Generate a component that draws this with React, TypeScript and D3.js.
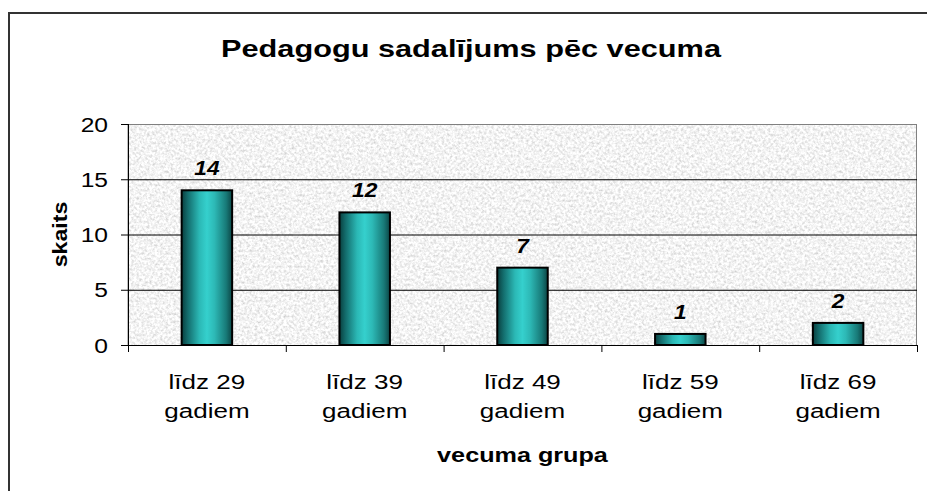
import React, { useEffect } from "react";
import { scaleBand, scaleLinear } from "d3";

const categories = ["līdz 29 gadiem", "līdz 39 gadiem", "līdz 49 gadiem", "līdz 59 gadiem", "līdz 69 gadiem"];
const counts = [14, 12, 7, 1, 2];
const yTicks = [0, 5, 10, 15, 20];

const title = "Pedagogu sadalījums pēc vecuma";
const xTitle = "vecuma grupa";
const yTitle = "skaits";

const W = 927;
const H = 491;
const plot = { left: 128, right: 917, top: 124, bottom: 345 };
const FONT = "'Liberation Sans', Arial, sans-serif";

const App = () => {
  // page has an 8px margin by default, drop it so the svg sits at 0,0
  useEffect(() => {
    document.body.style.margin = "0";
  }, []);

  const xCat = scaleBand().domain(categories).range([plot.left, plot.right]).padding(0);
  const xBar = scaleBand()
    .domain(categories)
    .range([plot.left, plot.right])
    .paddingInner(0.68)
    .paddingOuter(0.34);
  const y = scaleLinear().domain([0, 20]).range([plot.bottom, plot.top]);

  const boundaries = categories.map((c) => xCat(c)).concat([plot.right]);

  return (
    <svg width={W} height={H} style={{ display: "block", background: "#fff" }}>
      <defs>
        <filter id="granite" x="0" y="0" width="1" height="1">
          <feTurbulence type="fractalNoise" baseFrequency="0.38" numOctaves="4" seed="7" result="noise" />
          <feColorMatrix
            in="noise"
            type="matrix"
            values="0.7 0 0 0 0.55  0.7 0 0 0 0.55  0.7 0 0 0 0.55  0 0 0 0 1"
          />
        </filter>
        <linearGradient id="barGrad" x1="0" x2="1" y1="0" y2="0">
          <stop offset="0%" stopColor="#093e3e" />
          <stop offset="12%" stopColor="#136c6c" />
          <stop offset="35%" stopColor="#2bb8b5" />
          <stop offset="50%" stopColor="#35d0cd" />
          <stop offset="65%" stopColor="#2db9b6" />
          <stop offset="88%" stopColor="#187a78" />
          <stop offset="100%" stopColor="#0c4646" />
        </linearGradient>
      </defs>

      {/* chart area border */}
      <rect x={9} y={13} width={W} height={H} fill="none" stroke="#333" strokeWidth={2} />

      {/* plot background */}
      <rect
        x={plot.left}
        y={plot.top}
        width={plot.right - plot.left}
        height={plot.bottom - plot.top}
        fill="#ddd"
        filter="url(#granite)"
      />
      <rect
        x={plot.left}
        y={plot.top + 0.5}
        width={plot.right - plot.left - 0.5}
        height={plot.bottom - plot.top}
        fill="none"
        stroke="#808080"
        strokeWidth={1}
      />

      {/* gridlines */}
      {yTicks.filter((t) => t > 0 && t < 20).map((t) => (
        <line key={t} x1={plot.left} x2={plot.right} y1={y(t) + 0.5} y2={y(t) + 0.5} stroke="#000" strokeWidth={1} />
      ))}

      {/* bars */}
      {categories.map((c, i) => (
        <rect
          key={c}
          x={xBar(c)}
          y={y(counts[i])}
          width={xBar.bandwidth()}
          height={y(0) - y(counts[i])}
          fill="url(#barGrad)"
          stroke="#000"
          strokeWidth={2}
        />
      ))}

      {/* value labels */}
      {categories.map((c, i) => (
        <g key={c} transform={`translate(${xBar(c) + xBar.bandwidth() / 2},${y(counts[i]) - 15}) scale(1.08,1)`}>
          <text textAnchor="middle" fontFamily={FONT} fontSize={21} fontWeight="bold" fontStyle="italic" fill="#000">
            {counts[i]}
          </text>
        </g>
      ))}

      {/* y axis */}
      <line x1={plot.left + 0.5} x2={plot.left + 0.5} y1={plot.top} y2={plot.bottom} stroke="#000" />
      {yTicks.map((t) => (
        <g key={t}>
          <line x1={plot.left - 7} x2={plot.left} y1={y(t) + 0.5} y2={y(t) + 0.5} stroke="#000" />
          <g transform={`translate(108,${y(t) + 7.5}) scale(1.23,1)`}>
            <text textAnchor="end" fontFamily={FONT} fontSize={20} fill="#000">
              {t}
            </text>
          </g>
        </g>
      ))}

      {/* x axis */}
      <line x1={plot.left} x2={plot.right} y1={plot.bottom + 0.5} y2={plot.bottom + 0.5} stroke="#000" />
      {boundaries.map((b, i) => (
        <line key={i} x1={b + 0.5} x2={b + 0.5} y1={plot.bottom} y2={plot.bottom + 7} stroke="#000" />
      ))}
      {categories.map((c) => {
        const cx = xCat(c) + xCat.bandwidth() / 2;
        const words = c.split(" ");
        const lines = [words.slice(0, 2).join(" "), words.slice(2).join(" ")];
        return lines.map((ln, j) => (
          <g key={c + j} transform={`translate(${cx},${389 + j * 29}) scale(1.24,1)`}>
            <text textAnchor="middle" fontFamily={FONT} fontSize={21} fill="#000">
              {ln}
            </text>
          </g>
        ));
      })}

      {/* titles */}
      <g transform={`translate(471,57) scale(1.28,1)`}>
        <text textAnchor="middle" fontFamily={FONT} fontSize={24} fontWeight="bold" fill="#000">
          {title}
        </text>
      </g>
      <g transform={`translate(${(plot.left + plot.right) / 2},462) scale(1.26,1)`}>
        <text textAnchor="middle" fontFamily={FONT} fontSize={20} fontWeight="bold" fill="#000">
          {xTitle}
        </text>
      </g>
      <g transform={`translate(67,${(plot.top + plot.bottom) / 2}) rotate(-90) scale(1.16,1)`}>
        <text textAnchor="middle" fontFamily={FONT} fontSize={20} fontWeight="bold" fill="#000">
          {yTitle}
        </text>
      </g>
    </svg>
  );
};

export default App;
